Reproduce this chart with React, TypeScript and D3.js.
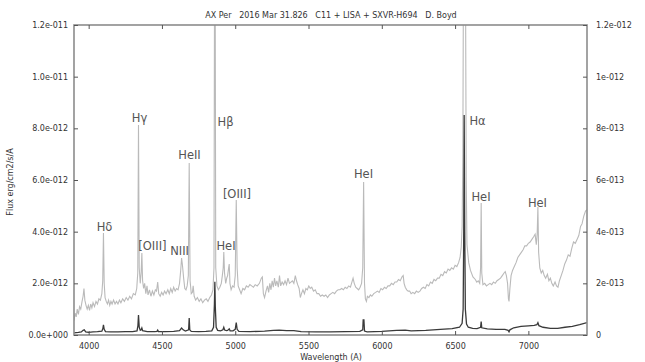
import React, { useEffect, useRef } from 'react';
import { select, scaleLinear, line, axisLeft, axisRight, axisBottom, axisTop } from 'd3';

// gray trace, [wavelength A, flux in 1e-12 erg/cm2/s/A] (left axis)
const grayTrace: [number, number][] = [
  [3900, 0.55], [3908, 0.85], [3915, 0.7], [3922, 1.0], [3930, 0.8], [3938, 1.1], [3946, 1.0], [3955, 1.3],
  [3962, 1.5], [3968, 1.8], [3974, 1.35], [3982, 1.15], [3990, 1.0], [3998, 1.15], [4006, 0.95], [4014, 1.2],
  [4022, 1.05], [4030, 1.25], [4040, 1.1], [4050, 1.3], [4060, 1.2], [4070, 1.4], [4080, 1.35], [4090, 1.6],
  [4096, 2.1], [4101, 3.95], [4106, 2.0], [4112, 1.45], [4120, 1.3], [4128, 1.2], [4136, 1.35], [4144, 1.15],
  [4152, 1.3], [4160, 1.2], [4170, 1.35], [4180, 1.2], [4190, 1.3], [4200, 1.2], [4210, 1.35], [4220, 1.25],
  [4232, 1.4], [4244, 1.3], [4256, 1.45], [4268, 1.35], [4280, 1.5], [4292, 1.4], [4305, 1.6], [4318, 1.55],
  [4328, 1.8], [4335, 2.4], [4340, 8.13], [4345, 2.6], [4352, 2.0], [4358, 2.4], [4363, 3.17], [4368, 2.1],
  [4375, 1.8], [4382, 2.0], [4390, 1.6], [4398, 1.9], [4405, 1.55], [4415, 1.75], [4425, 1.5], [4435, 1.7],
  [4445, 1.55], [4455, 1.75], [4463, 1.7], [4471, 2.05], [4478, 1.6], [4488, 1.5], [4498, 1.65], [4508, 1.55],
  [4518, 1.7], [4528, 1.6], [4540, 1.75], [4550, 1.6], [4560, 1.8], [4570, 1.65], [4580, 1.85], [4590, 1.7],
  [4600, 1.8], [4610, 1.75], [4620, 2.0], [4628, 2.5], [4634, 2.98], [4640, 2.7], [4648, 2.2], [4656, 1.8],
  [4664, 1.75], [4672, 1.9], [4680, 2.3], [4686, 6.66], [4692, 2.1], [4700, 1.6], [4708, 1.65], [4713, 1.9],
  [4720, 1.5], [4730, 1.35], [4742, 1.45], [4754, 1.3], [4766, 1.4], [4778, 1.25], [4790, 1.35], [4802, 1.4],
  [4814, 1.3], [4826, 1.45], [4838, 1.55], [4848, 1.75], [4855, 2.6], [4861, 20], [4867, 2.6], [4875, 1.9],
  [4885, 1.75], [4895, 1.85], [4905, 2.0], [4912, 2.3], [4918, 2.6], [4922, 3.21], [4927, 2.4], [4935, 2.0],
  [4942, 2.2], [4948, 2.3], [4955, 2.6], [4959, 2.75], [4964, 2.0], [4972, 1.75], [4982, 1.9], [4992, 1.85],
  [5000, 2.3], [5007, 5.23], [5013, 2.6], [5020, 1.9], [5030, 1.75], [5040, 1.6], [5052, 1.8], [5064, 1.75],
  [5076, 1.9], [5088, 1.85], [5100, 1.95], [5112, 1.9], [5124, 1.85], [5136, 1.95], [5150, 1.9], [5165, 2.0],
  [5178, 2.2], [5185, 2.25], [5192, 1.6], [5200, 1.45], [5210, 1.7], [5220, 1.9], [5228, 1.65], [5236, 2.0],
  [5244, 1.75], [5252, 2.1], [5260, 1.85], [5268, 2.2], [5276, 1.9], [5284, 2.1], [5294, 1.85], [5302, 2.3],
  [5310, 1.9], [5320, 2.05], [5330, 1.95], [5340, 2.1], [5350, 1.95], [5360, 2.2], [5370, 2.0], [5380, 2.05],
  [5390, 2.1], [5400, 2.0], [5410, 2.3], [5418, 2.1], [5426, 1.95], [5436, 1.8], [5444, 1.45], [5452, 1.6],
  [5462, 1.75], [5472, 1.6], [5482, 1.8], [5492, 1.75], [5502, 1.9], [5512, 1.8], [5522, 1.85], [5534, 1.7],
  [5546, 1.75], [5558, 1.6], [5570, 1.6], [5582, 1.5], [5594, 1.55], [5606, 1.5], [5618, 1.55], [5630, 1.45],
  [5642, 1.55], [5654, 1.6], [5666, 1.65], [5678, 1.6], [5690, 1.7], [5702, 1.75], [5714, 1.75], [5726, 1.8],
  [5738, 1.75], [5750, 1.85], [5762, 1.8], [5774, 1.9], [5786, 1.85], [5796, 2.05], [5804, 2.2], [5812, 2.0],
  [5822, 1.85], [5832, 1.8], [5842, 1.75], [5852, 1.85], [5862, 2.0], [5870, 2.6], [5876, 5.92], [5882, 2.0],
  [5888, 1.4], [5895, 1.3], [5902, 1.5], [5912, 1.45], [5922, 1.55], [5932, 1.5], [5945, 1.6], [5958, 1.65],
  [5970, 1.7], [5982, 1.65], [5994, 1.8], [6006, 1.75], [6018, 1.85], [6030, 1.8], [6042, 1.9], [6054, 1.9],
  [6066, 2.0], [6078, 1.95], [6090, 2.05], [6102, 2.05], [6114, 2.15], [6126, 2.1], [6138, 2.25], [6146, 2.3],
  [6152, 2.0], [6160, 1.85], [6170, 1.75], [6180, 1.7], [6190, 1.7], [6200, 1.6], [6212, 1.65], [6224, 1.6],
  [6236, 1.7], [6248, 1.65], [6260, 1.7], [6272, 1.8], [6284, 1.85], [6296, 1.8], [6308, 1.95], [6320, 1.9],
  [6332, 2.05], [6344, 2.0], [6356, 2.15], [6368, 2.1], [6380, 2.2], [6392, 2.2], [6404, 2.35], [6416, 2.3],
  [6428, 2.45], [6440, 2.4], [6452, 2.55], [6464, 2.5], [6476, 2.6], [6488, 2.55], [6500, 2.7], [6512, 2.65],
  [6524, 2.8], [6534, 3.0], [6542, 3.4], [6548, 4.2], [6553, 7.0], [6556, 12.3], [6560, 30], [6563, 40],
  [6567, 30], [6572, 12.3], [6576, 6.0], [6581, 3.5], [6593, 2.8], [6605, 2.5], [6622, 2.25], [6638, 2.15],
  [6648, 2.05], [6658, 2.1], [6668, 2.0], [6674, 2.6], [6678, 5.11], [6682, 2.4], [6690, 1.95], [6702, 2.0],
  [6714, 1.9], [6726, 1.95], [6738, 2.0], [6750, 1.95], [6762, 2.05], [6774, 2.0], [6786, 2.1], [6798, 2.15],
  [6810, 2.2], [6822, 2.3], [6834, 2.4], [6842, 2.45], [6850, 2.3], [6858, 2.0], [6864, 1.4], [6868, 1.3],
  [6874, 1.8], [6882, 2.3], [6892, 2.5], [6904, 2.65], [6916, 2.8], [6928, 3.0], [6940, 3.1], [6952, 3.2],
  [6964, 3.3], [6976, 3.45], [6988, 3.45], [7000, 3.55], [7012, 3.6], [7024, 3.7], [7036, 3.8], [7046, 3.9],
  [7054, 3.5], [7060, 3.9], [7065, 4.95], [7070, 3.2], [7078, 2.6], [7088, 2.4], [7098, 2.5], [7108, 2.3],
  [7118, 2.2], [7130, 2.35], [7140, 2.1], [7150, 2.2], [7160, 2.0], [7170, 1.9], [7182, 2.05], [7192, 1.9],
  [7202, 1.85], [7212, 2.1], [7224, 2.3], [7236, 2.5], [7248, 2.75], [7260, 2.9], [7272, 3.1], [7284, 3.05],
  [7296, 3.35], [7308, 3.6], [7320, 3.55], [7332, 3.7], [7344, 3.85], [7356, 4.2], [7366, 4.3], [7378, 4.6],
  [7390, 4.8], [7400, 4.85],
];

// dark trace, [wavelength A, flux in 1e-13] (right axis)
const darkTrace: [number, number][] = [
  [3900, 0.08], [3930, 0.1], [3950, 0.12], [3962, 0.18], [3970, 0.2], [3980, 0.12], [4000, 0.1], [4030, 0.12],
  [4060, 0.13], [4090, 0.15], [4097, 0.25], [4101, 0.39], [4106, 0.22], [4115, 0.13], [4150, 0.12], [4200, 0.12],
  [4250, 0.13], [4300, 0.13], [4330, 0.16], [4336, 0.35], [4340, 0.77], [4345, 0.3], [4352, 0.18], [4358, 0.2],
  [4363, 0.27], [4368, 0.17], [4400, 0.13], [4450, 0.13], [4466, 0.14], [4471, 0.19], [4476, 0.13], [4520, 0.13],
  [4580, 0.14], [4620, 0.17], [4634, 0.27], [4645, 0.2], [4660, 0.15], [4682, 0.2], [4686, 0.66], [4690, 0.2],
  [4700, 0.14], [4750, 0.13], [4800, 0.14], [4840, 0.16], [4852, 0.3], [4858, 1.2], [4861, 2.06], [4864, 1.1],
  [4870, 0.3], [4880, 0.18], [4900, 0.16], [4916, 0.2], [4922, 0.3], [4928, 0.19], [4940, 0.17], [4948, 0.18],
  [4959, 0.24], [4965, 0.16], [4985, 0.16], [5000, 0.22], [5007, 0.48], [5013, 0.22], [5025, 0.14], [5100, 0.13],
  [5200, 0.15], [5260, 0.18], [5300, 0.19], [5350, 0.17], [5400, 0.17], [5450, 0.13], [5550, 0.12], [5650, 0.12],
  [5750, 0.13], [5850, 0.14], [5870, 0.2], [5873, 0.58], [5878, 0.58], [5882, 0.15], [5900, 0.12], [6000, 0.14],
  [6100, 0.18], [6160, 0.19], [6200, 0.16], [6300, 0.18], [6400, 0.22], [6480, 0.25], [6530, 0.3], [6548, 0.45],
  [6555, 1.0], [6559, 4.0], [6562, 8.52], [6566, 4.0], [6570, 1.0], [6578, 0.42], [6590, 0.3], [6620, 0.26],
  [6650, 0.25], [6674, 0.3], [6678, 0.52], [6682, 0.28], [6720, 0.24], [6780, 0.22], [6840, 0.22], [6862, 0.18],
  [6868, 0.12], [6874, 0.2], [6900, 0.28], [6950, 0.33], [7000, 0.35], [7040, 0.37], [7058, 0.4], [7065, 0.48],
  [7072, 0.36], [7100, 0.3], [7150, 0.26], [7200, 0.26], [7250, 0.3], [7300, 0.33], [7350, 0.4], [7400, 0.48],
];

const xTicks = [4000, 4500, 5000, 5500, 6000, 6500, 7000];
const leftTicks = [0, 2e-12, 4e-12, 6e-12, 8e-12, 1e-11, 1.2e-11];
const leftTickLabels = ['0.0e+000', '2.0e-012', '4.0e-012', '6.0e-012', '8.0e-012', '1.0e-011', '1.2e-011'];
const rightTicks = [0, 2e-13, 4e-13, 6e-13, 8e-13, 1e-12, 1.2e-12];
const rightTickLabels = ['0', '2e-013', '4e-013', '6e-013', '8e-013', '1e-012', '1.2e-012'];

// line ids: text, wavelength of text centre, height (1e-12, left axis) of baseline
const lineLabels: [string, number, number][] = [
  ['H\u03b4', 4108, 4.03],
  ['H\u03b3', 4347, 8.25],
  ['[OIII]', 4435, 3.29],
  ['NIII', 4620, 3.1],
  ['HeII', 4688, 6.81],
  ['H\u03b2', 4934, 8.09],
  ['HeI', 4937, 3.29],
  ['[OIII]', 5012, 5.3],
  ['HeI', 5875, 6.08],
  ['H\u03b1', 6653, 8.13],
  ['HeI', 6677, 5.19],
  ['HeI', 7062, 4.96],
];

const title = 'AX Per   2016 Mar 31.826   C11 + LISA + SXVR-H694   D. Boyd';

export default function App() {
  const ref = useRef<SVGSVGElement>(null);

  useEffect(() => {
    let width = 645, height = 362;
    let left = 74, right = 587, top = 25, bottom = 335;
    let font = '"DejaVu Sans", Verdana, sans-serif';

    let x = scaleLinear().domain([3900, 7400]).range([left, right]);
    let yL = scaleLinear().domain([0, 1.2e-11]).range([bottom, top]);
    let yR = scaleLinear().domain([0, 1.2e-12]).range([bottom, top]);

    let svg = select(ref.current);
    svg.selectAll('*').remove();
    svg.attr('width', width).attr('height', height);

    svg.append('rect').attr('width', width).attr('height', height).attr('fill', 'white');

    svg.append('clipPath').attr('id', 'plotclip')
      .append('rect').attr('x', left).attr('y', top).attr('width', right - left).attr('height', bottom - top);

    let grayLine = line<[number, number]>().x(d => x(d[0])).y(d => yL(d[1] * 1e-12));
    let darkLine = line<[number, number]>().x(d => x(d[0])).y(d => yR(d[1] * 1e-13));

    let plot = svg.append('g').attr('clip-path', 'url(#plotclip)');
    plot.append('path').datum(grayTrace).attr('d', grayLine)
      .attr('fill', 'none').attr('stroke', '#bababa').attr('stroke-width', 1.1);
    plot.append('path').datum(darkTrace).attr('d', darkLine)
      .attr('fill', 'none').attr('stroke', '#3a3a3a').attr('stroke-width', 1.3);

    // frame
    svg.append('rect').attr('x', left).attr('y', top).attr('width', right - left).attr('height', bottom - top)
      .attr('fill', 'none').attr('stroke', '#8c8c8c').attr('stroke-width', 1.6);

    function style(g) {
      g.select('.domain').remove();
      g.selectAll('line').attr('stroke', '#555');
      g.selectAll('text').attr('fill', '#333').style('font-family', font).style('font-size', '8px');
    }

    svg.append('g').attr('transform', `translate(${left},0)`)
      .call(axisLeft(yL).tickValues(leftTicks).tickSize(-4).tickPadding(6)
        .tickFormat((d, i) => leftTickLabels[i]))
      .call(style);

    svg.append('g').attr('transform', `translate(${right},0)`)
      .call(axisRight(yR).tickValues(rightTicks).tickSize(-4).tickPadding(9)
        .tickFormat((d, i) => rightTickLabels[i]))
      .call(style);

    svg.append('g').attr('transform', `translate(0,${bottom})`)
      .call(axisBottom(x).tickValues(xTicks).tickSize(-4).tickPadding(8).tickFormat(d => String(d)))
      .call(style);

    svg.append('g').attr('transform', `translate(0,${top})`)
      .call(axisTop(x).tickValues(xTicks).tickSize(-4).tickFormat(() => ''))
      .call(style);

    // line identifications
    svg.append('g').selectAll('text').data(lineLabels).join('text')
      .attr('x', d => x(d[1]))
      .attr('y', d => yL(d[2] * 1e-12))
      .attr('text-anchor', 'middle')
      .style('font-family', font).style('font-size', '11.5px')
      .attr('fill', '#555')
      .text(d => d[0]);

    svg.append('text').attr('x', 331).attr('y', 18).attr('text-anchor', 'middle')
      .style('font-family', font).style('font-size', '8px').attr('fill', '#333')
      .style('white-space', 'pre')
      .text(title);

    svg.append('text').attr('transform', 'translate(13,182) rotate(-90)').attr('text-anchor', 'middle')
      .style('font-family', font).style('font-size', '8px').attr('fill', '#333')
      .text('Flux erg/cm2/s/A');

    svg.append('text').attr('x', 331).attr('y', 360).attr('text-anchor', 'middle')
      .style('font-family', font).style('font-size', '8px').attr('fill', '#333')
      .text('Wavelength (A)');
  }, []);

  return (
    <svg ref={ref} style={{ position: 'absolute', left: 0, top: 0 }} />
  );
}
